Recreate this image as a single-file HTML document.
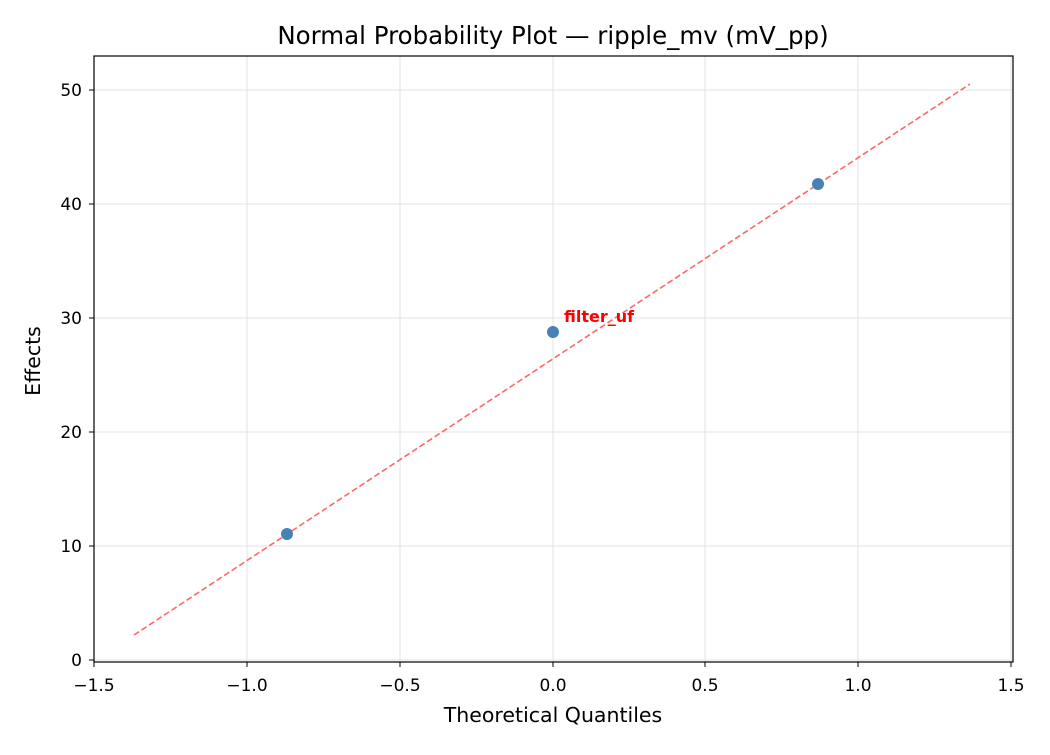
<!DOCTYPE html>
<html><head><style>body{margin:0;background:#fff}</style></head><body>
<svg width="1050" height="750" xmlns="http://www.w3.org/2000/svg" font-family="DejaVu Sans, Liberation Sans, sans-serif">
<rect width="1050" height="750" fill="#fff"/>
<g stroke="#e3e3e3" stroke-width="1">
<line x1="94" y1="56" x2="94" y2="662"/><line x1="247" y1="56" x2="247" y2="662"/><line x1="400" y1="56" x2="400" y2="662"/><line x1="553" y1="56" x2="553" y2="662"/><line x1="705" y1="56" x2="705" y2="662"/><line x1="858" y1="56" x2="858" y2="662"/><line x1="1011" y1="56" x2="1011" y2="662"/>
<line x1="94" y1="660" x2="1013" y2="660"/><line x1="94" y1="546" x2="1013" y2="546"/><line x1="94" y1="432" x2="1013" y2="432"/><line x1="94" y1="318" x2="1013" y2="318"/><line x1="94" y1="204" x2="1013" y2="204"/><line x1="94" y1="90" x2="1013" y2="90"/>
</g>
<line x1="134" y1="635" x2="970" y2="84" stroke="#ff6666" stroke-width="1.6" stroke-dasharray="6,3"/>
<g fill="#4682b4"><circle cx="287" cy="534" r="6"/><circle cx="553" cy="332" r="6"/><circle cx="818" cy="184" r="6"/></g>
<text x="564" y="322" fill="#ff0000" font-weight="bold" font-size="16">filter_uf</text>
<rect x="94" y="56" width="919" height="606" fill="none" stroke="#000" stroke-width="1.2"/>
<g stroke="#000"><line x1="94" y1="662" x2="94" y2="667"/><line x1="247" y1="662" x2="247" y2="667"/><line x1="400" y1="662" x2="400" y2="667"/><line x1="553" y1="662" x2="553" y2="667"/><line x1="705" y1="662" x2="705" y2="667"/><line x1="858" y1="662" x2="858" y2="667"/><line x1="1011" y1="662" x2="1011" y2="667"/>
<line x1="89" y1="660" x2="94" y2="660"/><line x1="89" y1="546" x2="94" y2="546"/><line x1="89" y1="432" x2="94" y2="432"/><line x1="89" y1="318" x2="94" y2="318"/><line x1="89" y1="204" x2="94" y2="204"/><line x1="89" y1="90" x2="94" y2="90"/></g>
<g font-size="17" text-anchor="middle" fill="#000">
<text x="94" y="691">−1.5</text><text x="247" y="691">−1.0</text><text x="400" y="691">−0.5</text><text x="553" y="691">0.0</text><text x="705" y="691">0.5</text><text x="858" y="691">1.0</text><text x="1011" y="691">1.5</text>
</g>
<g font-size="17" text-anchor="end" fill="#000">
<text x="82" y="666">0</text><text x="82" y="552">10</text><text x="82" y="438">20</text><text x="82" y="324">30</text><text x="82" y="210">40</text><text x="82" y="96">50</text>
</g>
<text x="553" y="722" font-size="20.5" text-anchor="middle">Theoretical Quantiles</text>
<text transform="translate(40,361) rotate(-90)" font-size="20.5" text-anchor="middle">Effects</text>
<text x="553" y="44" font-size="24.5" text-anchor="middle">Normal Probability Plot — ripple_mv (mV_pp)</text>
</svg>
</body></html>
